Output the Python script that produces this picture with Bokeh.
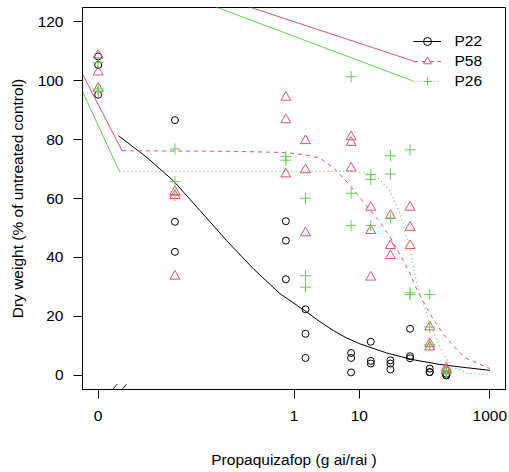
from bokeh.plotting import figure
from bokeh.models import Range1d, FixedTicker, Legend, LegendItem, PolyAnnotation
from bokeh.embed import file_html
from bokeh.resources import INLINE

# ---------------- data ----------------
doses = [0, 0.015, 0.75, 1.5, 7.5, 15, 30, 60, 120, 215]
ZERO_AT = 0.001   # where dose 0 is shown on the broken log axis

p22_resp = [[108.2, 105.3, 95.2], [86.6, 52.1, 41.9], [52.3, 45.7, 32.6],
            [22.4, 14.1, 5.9], [7.6, 5.9, 1.0], [11.4, 4.9, 4.0],
            [5.1, 4.0, 2.0], [15.8, 6.5, 5.8], [2.3, 1.1, 1.1], [0.5, 0.0, 0.0]]
p58_resp = [[108.6, 102.9, 97.4], [62.3, 61.0, 33.6], [94.3, 86.7, 68.3],
            [79.6, 69.7, 48.3], [80.9, 79.0, 70.3], [57.0, 49.1, 33.3],
            [54.2, 44.0, 40.6], [57.0, 50.2, 44.0], [16.4, 10.7, 9.6], [2.5, 1.8, 1.5]]
p26_resp = [[106.1, 97.2, 96.3], [76.8, 65.7, 61.0], [74.2, 73.0],
            [60.1, 33.8, 29.9], [101.3, 61.8, 50.8], [68.1, 66.5, 50.8],
            [74.5, 68.3, 53.4], [76.5, 28.0, 27.4], [27.4, 16.4, 10.4], [1.7, 1.1, 0.8]]

# fitted curves
p22_curve_dose = [0.00205, 0.0056, 0.0142, 0.0364, 0.093, 0.24, 0.61, 1.56, 2.5,
                  4.0, 6.5, 10.2, 26.2, 67, 172, 440, 1000]
p22_curve_resp = [81.3, 73.9, 66.0, 55.9, 45.7, 36.1, 27.7, 21.5, 18.2,
                  15.2, 12.6, 10.7, 7.6, 5.3, 3.7, 2.6, 1.7]
p58_curve_dose = [0.00233, 0.118, 0.74, 1.51, 2.5, 4.24, 7.2, 12.9, 20.7, 29.5,
                  41.9, 60.3, 71.2, 95.4, 136, 217, 414, 1000]
p58_curve_resp = [76.2, 76.0, 75.6, 74.8, 73.7, 70.0, 64.5, 57.5, 52.0, 47.0,
                  41.0, 34.5, 30.5, 25.0, 19.0, 12.5, 6.0, 2.3]
p26_curve_dose = [0.00212, 7.2, 12.9, 20.7, 29.5, 41.9, 60.3, 71.2, 84.8, 121,
                  172, 217, 309, 440, 1000]
p26_curve_resp = [69.2, 69.2, 68.6, 66.5, 62.5, 55.0, 42.5, 34.0, 28.0, 17.5,
                  9.5, 5.5, 2.2, 0.8, 0.2]

# extra solid segments visible in the reference
p58_left_dose = [0.000447, 0.00233]
p58_left_resp = [106.9, 76.2]
p26_left_dose = [0.000447, 0.00212]
p26_left_resp = [101.5, 69.2]
p58_top_dose = [0.1, 74.8]
p58_top_resp = [127.3, 106.3]
p26_top_dose = [0.0316, 66.4]
p26_top_resp = [127.5, 99.9]

x_ticks = [0.001, 1, 10, 1000]
x_tick_labels = ["0", "1", "10", "1000"]
y_ticks = [0, 20, 40, 60, 80, 100, 120]

RED = "#DF536B"
GREEN = "#61D04F"
BLACK = "#000000"
FONT = "Liberation Sans"
FS = "15.5px"


def flatten(resp):
    xs, ys = [], []
    for d, vals in zip(doses, resp):
        for v in vals:
            xs.append(d if d > 0 else ZERO_AT)
            ys.append(v)
    return xs, ys


p = figure(width=509, height=472, x_axis_type="log",
           x_range=Range1d(10 ** -3.24, 10 ** 3.24),
           y_range=Range1d(-4.8, 124.8),
           output_backend="svg", toolbar_location=None,
           min_border_left=82, min_border_right=4,
           min_border_top=7, min_border_bottom=83)
p.xgrid.visible = False
p.ygrid.visible = False
p.outline_line_color = BLACK
p.outline_line_width = 1
p.background_fill_color = "white"
p.border_fill_color = "white"

# extra solid segments
p.line(p58_left_dose, p58_left_resp, line_color=RED, line_width=1)
p.line(p26_left_dose, p26_left_resp, line_color=GREEN, line_width=1)
p.line(p58_top_dose, p58_top_resp, line_color=RED, line_width=1)
p.line(p26_top_dose, p26_top_resp, line_color=GREEN, line_width=1)

# curves
l22 = p.line(p22_curve_dose, p22_curve_resp, line_color=BLACK, line_width=1)
l58 = p.line(p58_curve_dose, p58_curve_resp, line_color=RED, line_width=1,
             line_dash="4 4")
l26 = p.line(p26_curve_dose, p26_curve_resp, line_color=GREEN, line_width=1.2,
             line_dash="1 3")

# points
x22, y22 = flatten(p22_resp)
x58, y58 = flatten(p58_resp)
x26, y26 = flatten(p26_resp)
s22 = p.scatter(x22, y22, marker="circle", size=7, fill_color=None,
                line_color=BLACK, line_width=1)
s58 = p.scatter(x58, y58, marker="triangle", size=10, fill_color=None,
                line_color=RED, line_width=1)
s26 = p.scatter(x26, y26, marker="cross", size=11, line_color=GREEN,
                line_width=1)

# axes
for ax in (p.xaxis[0], p.yaxis[0]):
    ax.major_label_text_font = FONT
    ax.major_label_text_font_size = FS
    ax.major_label_text_color = BLACK
    ax.axis_label_text_font = FONT
    ax.axis_label_text_font_size = FS
    ax.axis_label_text_font_style = "normal"
    ax.axis_label_text_color = BLACK
    ax.major_tick_out = 9
    ax.major_tick_in = 0
    ax.major_tick_line_color = BLACK
    ax.minor_tick_line_color = None
    ax.axis_line_color = BLACK

p.xaxis[0].ticker = FixedTicker(ticks=x_ticks)
p.xaxis[0].major_label_overrides = {t: l for t, l in zip(x_ticks, x_tick_labels)}
p.xaxis[0].major_label_standoff = 12
p.xaxis[0].axis_label = "Propaquizafop (g ai/rai )"
p.xaxis[0].axis_label_standoff = 27

p.yaxis[0].ticker = FixedTicker(ticks=y_ticks)
p.yaxis[0].major_label_standoff = 10
p.yaxis[0].axis_label = "Dry weight (% of untreated control)"
p.yaxis[0].axis_label_standoff = 9

# axis break marks "//"
for x0, x1 in ((10 ** -2.832, 10 ** -2.718), (10 ** -2.694, 10 ** -2.576)):
    dx = (x1 / x0) ** 0.13
    p.add_layout(PolyAnnotation(xs=[x0, x0 * dx, x1 * dx, x1],
                                ys=[-6.2, -6.2, -3.05, -3.05],
                                fill_color=BLACK, fill_alpha=1.0,
                                line_color=None))

legend = Legend(items=[LegendItem(label="P22", renderers=[l22, s22]),
                       LegendItem(label="P58", renderers=[l58, s58]),
                       LegendItem(label="P26", renderers=[l26, s26])],
                location=(330.5, 298.5), orientation="vertical",
                glyph_width=28, glyph_height=20, label_height=20,
                label_standoff=14, padding=0, margin=0, spacing=0,
                border_line_color=None, background_fill_alpha=0,
                label_text_font=FONT, label_text_font_size=FS,
                label_text_color=BLACK)
p.add_layout(legend)

open("out.html", "w").write(file_html(p, INLINE))
